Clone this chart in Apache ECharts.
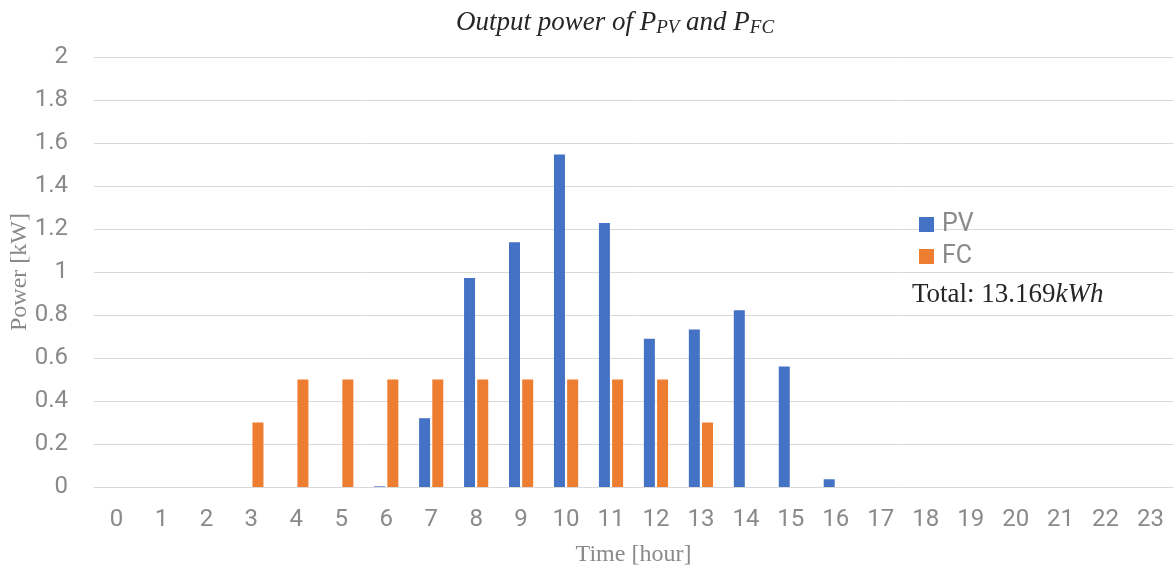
<!DOCTYPE html>
<html>
<head>
<meta charset="utf-8">
<script src="https://cdn.jsdelivr.net/npm/echarts@6/dist/echarts.min.js"></script>
<style>
  html, body { margin: 0; padding: 0; background: #ffffff; }
  #chart { width: 1173px; height: 572px; }
</style>
</head>
<body>
<div id="chart"></div>
<script>
// Hourly output power [kW]
const hours = ['0','1','2','3','4','5','6','7','8','9','10','11','12','13','14','15','16','17','18','19','20','21','22','23'];
const pvPower = [0, 0, 0, 0, 0, 0, 0.003, 0.32, 0.972, 1.138, 1.547, 1.228, 0.69, 0.733, 0.822, 0.561, 0.036, 0, 0, 0, 0, 0, 0, 0];
const fcPower = [0, 0, 0, 0.3, 0.5, 0.5, 0.5, 0.5, 0.5, 0.5, 0.5, 0.5, 0.5, 0.3, 0, 0, 0, 0, 0, 0, 0, 0, 0, 0];
const seriesNames = ['PV', 'FC'];
const totalEnergy = '13.169';

const axisGrey = '#8a8a8a';
const gridGrey = '#d9d9d9';
const serif = '"Liberation Serif", "DejaVu Serif", serif';
const sans = 'Roboto, "Noto Sans", sans-serif';

const chart = echarts.init(document.getElementById('chart'), null, { renderer: 'canvas' });

chart.setOption({
  animation: false,
  backgroundColor: '#ffffff',
  title: {
    text: '{t|Output power of P}{s|PV}{t| and P}{s|FC}',
    left: 610,
    textAlign: 'center',
    top: 3,
    textStyle: {
      fontWeight: 'normal',
      rich: {
        t: { fontFamily: serif, fontStyle: 'italic', fontWeight: 'normal', fontSize: 27, color: '#262626' },
        s: { fontFamily: serif, fontStyle: 'italic', fontWeight: 'normal', fontSize: 19, color: '#262626', padding: [10, 0, 0, 0] }
      }
    }
  },
  legend: {
    data: seriesNames,
    orient: 'vertical',
    left: 914,
    top: 207,
    itemWidth: 15,
    itemHeight: 15,
    itemGap: 7,
    icon: 'rect',
    textStyle: { fontFamily: sans, fontSize: 25, color: axisGrey, padding: [0, 0, 0, 3] }
  },
  graphic: [{
    type: 'text',
    left: 912,
    top: 281,
    style: {
      text: '{n|Total: ' + totalEnergy + '}{i|kWh}',
      rich: {
        n: { fontFamily: serif, fontSize: 27, fill: '#262626' },
        i: { fontFamily: serif, fontStyle: 'italic', fontSize: 27, fill: '#262626' }
      }
    }
  }],
  grid: { left: 94, right: 0, top: 57, bottom: 85, containLabel: false, outerBoundsMode: 'none' },
  xAxis: {
    type: 'category',
    data: hours,
    name: 'Time [hour]',
    nameLocation: 'middle',
    nameGap: 56,
    nameMoveOverlap: false,
    nameTextStyle: { fontFamily: serif, fontSize: 24, color: axisGrey },
    axisLine: { lineStyle: { color: gridGrey, width: 1 } },
    axisTick: { show: false },
    axisLabel: { fontFamily: sans, fontSize: 24, color: axisGrey, margin: 21 }
  },
  yAxis: {
    type: 'value',
    min: 0,
    max: 2,
    interval: 0.2,
    name: 'Power [kW]',
    nameLocation: 'middle',
    nameGap: 62,
    nameMoveOverlap: false,
    nameTextStyle: { fontFamily: serif, fontSize: 24, color: axisGrey },
    axisLine: { show: false },
    axisTick: { show: false },
    axisLabel: { fontFamily: sans, fontSize: 24, color: axisGrey, margin: 26 },
    splitLine: { lineStyle: { color: gridGrey, width: 1 } }
  },
  series: [
    {
      name: seriesNames[0],
      type: 'bar',
      data: pvPower,
      barWidth: 11,
      barGap: '20%',
      itemStyle: { color: '#4472c4' }
    },
    {
      name: seriesNames[1],
      type: 'bar',
      data: fcPower,
      barWidth: 11,
      barGap: '20%',
      itemStyle: { color: '#ed7d31' }
    }
  ]
});
</script>
</body>
</html>
